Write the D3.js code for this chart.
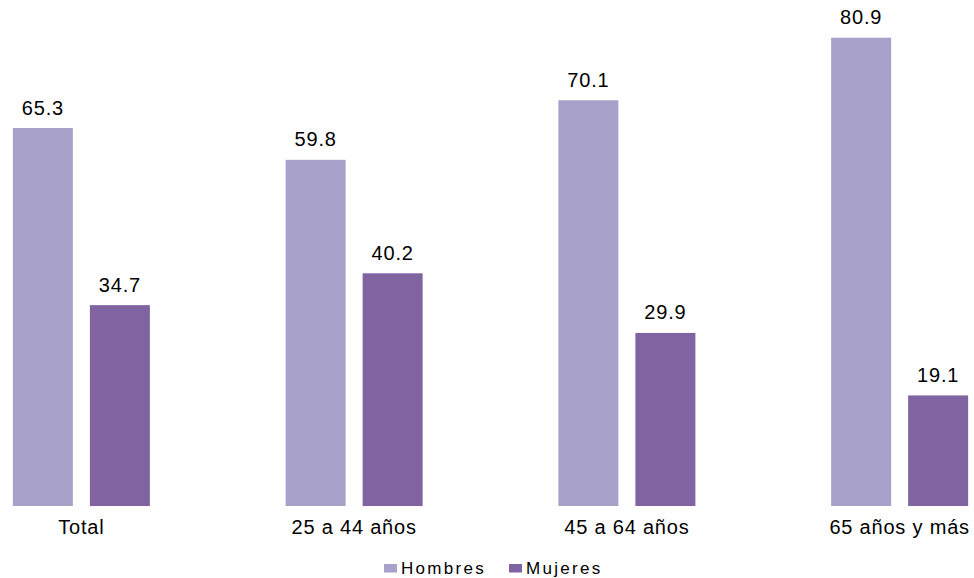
<!DOCTYPE html>
<html>
<head>
<meta charset="utf-8">
<script src="https://cdn.jsdelivr.net/npm/d3@7"></script>
<style>
  body { margin: 0; background: #fff; }
  svg text { font-family: "Liberation Sans", Arial, sans-serif; fill: #000; }
</style>
</head>
<body>
<svg id="chart" width="974" height="578"></svg>
<script>
// data
const categories = ['Total', '25 a 44 años', '45 a 64 años', '65 años y más'];
const seriesNames = ['Hombres', 'Mujeres'];
const hombres = [65.3, 59.8, 70.1, 80.9];
const mujeres = [34.7, 40.2, 29.9, 19.1];
const colors = ['#a8a2cb', '#8064a2'];

const svg = d3.select('#chart');
const baseline = 506;

// outer bands run a bit past the window edges, like the original
const x0 = d3.scaleBand()
  .domain(categories)
  .range([-55, 1036]);

const x1 = d3.scaleBand()
  .domain(seriesNames)
  .range([(x0.bandwidth() - 137) / 2, (x0.bandwidth() + 137) / 2])
  .paddingInner(17 / 77);

const y = d3.scaleLinear()
  .domain([0, 80.9])
  .range([baseline, 37.7]);

const rows = categories.map((c, i) => ({
  cat: c,
  vals: [{ s: 'Hombres', v: hombres[i] }, { s: 'Mujeres', v: mujeres[i] }]
}));

const groups = svg.selectAll('g.grp')
  .data(rows)
  .enter().append('g')
  .attr('class', 'grp')
  .attr('transform', d => `translate(${x0(d.cat)},0)`);

groups.selectAll('rect')
  .data(d => d.vals)
  .enter().append('rect')
  .attr('x', d => x1(d.s))
  .attr('y', d => y(d.v))
  .attr('width', x1.bandwidth())
  .attr('height', d => baseline - y(d.v))
  .attr('fill', (d, i) => colors[i]);

// value labels
groups.selectAll('text.val')
  .data(d => d.vals)
  .enter().append('text')
  .attr('class', 'val')
  .attr('x', d => x1(d.s) + x1.bandwidth() / 2)
  .attr('y', d => y(d.v) - 13.5)
  .attr('text-anchor', 'middle')
  .style('font-size', '20px')
  .style('letter-spacing', '0.8px')
  .text(d => d.v.toFixed(1));

// category labels
svg.selectAll('text.cat')
  .data(categories)
  .enter().append('text')
  .attr('class', 'cat')
  .attr('x', d => x0(d) + x0.bandwidth() / 2)
  .attr('y', 534)
  .attr('text-anchor', 'middle')
  .style('font-size', '20px')
  .style('letter-spacing', '0.8px')
  .text(d => d);

// legend
const legendX = [384, 509];
const legend = svg.selectAll('g.leg')
  .data(seriesNames)
  .enter().append('g')
  .attr('class', 'leg')
  .attr('transform', (d, i) => `translate(${legendX[i]},0)`);

legend.append('rect')
  .attr('x', 0)
  .attr('y', 564)
  .attr('width', 13)
  .attr('height', 8.5)
  .attr('fill', (d, i) => colors[i]);

legend.append('text')
  .attr('x', 17)
  .attr('y', 574)
  .style('font-size', '17px')
  .style('letter-spacing', '2.3px')
  .text(d => d);
</script>
</body>
</html>
